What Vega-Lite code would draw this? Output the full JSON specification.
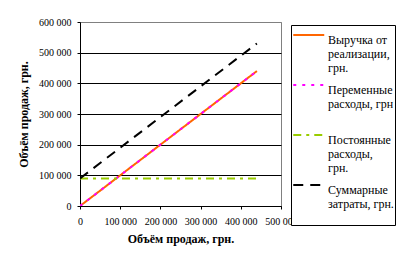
{
  "$schema": "https://vega.github.io/schema/vega-lite/v6.json",
  "width": 201,
  "height": 184,
  "autosize": {"type": "none"},
  "padding": {"left": 80, "top": 22, "right": 125, "bottom": 57},
  "background": "white",
  "config": {
    "view": {"stroke": "#808080", "strokeWidth": 1},
    "font": "Liberation Serif"
  },
  "data": {
    "values": [
      {"series": "Выручка от реализации, грн.", "x": 0, "y": 0},
      {"series": "Выручка от реализации, грн.", "x": 440000, "y": 440000},
      {"series": "Переменные расходы, грн", "x": 0, "y": 0},
      {"series": "Переменные расходы, грн", "x": 440000, "y": 440000},
      {"series": "Постоянные расходы, грн.", "x": 0, "y": 90000},
      {"series": "Постоянные расходы, грн.", "x": 440000, "y": 90000},
      {"series": "Суммарные затраты, грн.", "x": 0, "y": 90000},
      {"series": "Суммарные затраты, грн.", "x": 440000, "y": 530000}
    ]
  },
  "mark": {"type": "line", "strokeWidth": 2, "clip": true},
  "encoding": {
    "x": {
      "field": "x", "type": "quantitative",
      "scale": {"domain": [0, 500000], "nice": false},
      "axis": {
        "values": [0, 100000, 200000, 300000, 400000, 500000],
        "title": "Объём продаж, грн.",
        "titleFont": "Liberation Serif", "titleFontSize": 12, "titleFontWeight": "bold", "titleColor": "black",
        "titlePadding": 7,
        "labelFont": "Liberation Serif", "labelFontSize": 10, "labelColor": "black",
        "labelExpr": "replace(format(datum.value, ','), ',', ' ')",
        "labelPadding": 7, "tickSize": 3, "tickColor": "black", "domainColor": "black",
        "labelFlush": false, "labelOverlap": false,
        "grid": false
      }
    },
    "y": {
      "field": "y", "type": "quantitative",
      "scale": {"domain": [0, 600000], "nice": false},
      "axis": {
        "values": [0, 100000, 200000, 300000, 400000, 500000, 600000],
        "title": "Объём продаж, грн.",
        "titleFont": "Liberation Serif", "titleFontSize": 12, "titleFontWeight": "bold", "titleColor": "black",
        "titlePadding": 8,
        "labelFont": "Liberation Serif", "labelFontSize": 10, "labelColor": "black",
        "labelExpr": "replace(format(datum.value, ','), ',', ' ')",
        "labelPadding": 6, "tickSize": 3, "tickColor": "black", "domainColor": "black",
        "labelFlush": false, "labelOverlap": false,
        "grid": true,
        "gridColor": {"condition": {"test": "datum.value == 600000", "value": "#808080"}, "value": "black"},
        "gridOpacity": 1
      }
    },
    "color": {
      "field": "series", "type": "nominal",
      "scale": {
        "domain": ["Выручка от реализации, грн.", "Переменные расходы, грн", "Постоянные расходы, грн.", "Суммарные затраты, грн."],
        "range": ["#FF6600", "#FF00FF", "#99CC00", "#000000"]
      },
      "legend": {
        "title": null,
        "orient": "none",
        "legendX": 211,
        "legendY": 3,
        "strokeColor": "black",
        "fillColor": "white",
        "padding": 1,
        "symbolType": "M-1,0H3",
        "symbolSize": 240,
        "symbolStrokeWidth": 2,
        "symbolFillColor": "transparent",
        "labelFont": "Liberation Serif",
        "labelFontSize": 12,
        "labelColor": "black",
        "labelLimit": 0,
        "labelOffset": 18,
        "labelBaseline": "top",
        "rowPadding": 2,
        "labelExpr": "datum.value == 'Выручка от реализации, грн.' ? ['Выручка от', 'реализации,', 'грн.'] : datum.value == 'Переменные расходы, грн' ? ['Переменные', 'расходы, грн', ' '] : datum.value == 'Постоянные расходы, грн.' ? ['Постоянные', 'расходы,', 'грн.'] : ['Суммарные', 'затраты, грн.', ' ']"
      }
    },
    "strokeDash": {
      "field": "series", "type": "nominal",
      "scale": {
        "domain": ["Выручка от реализации, грн.", "Переменные расходы, грн", "Постоянные расходы, грн.", "Суммарные затраты, грн."],
        "range": [[1, 0], [3, 6], [8, 5, 3, 5], [10, 7]]
      }
    }
  }
}
